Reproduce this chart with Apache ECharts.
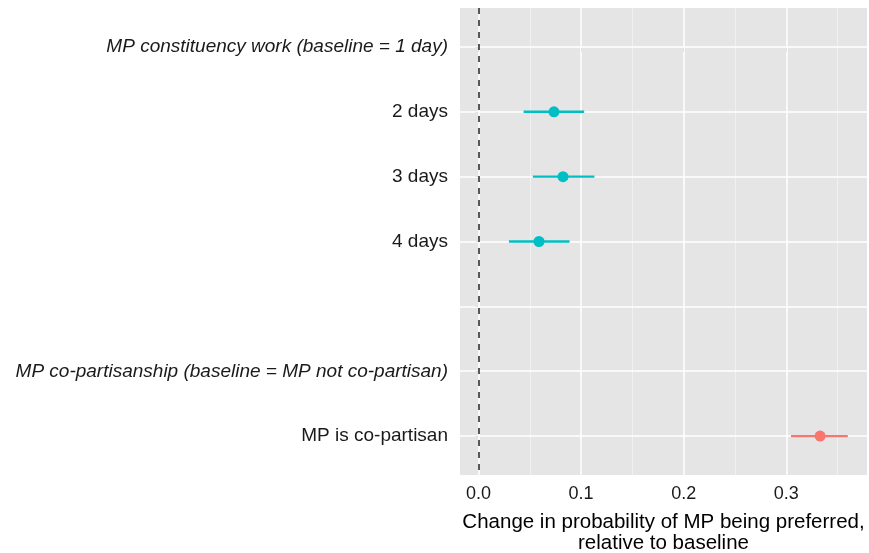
<!DOCTYPE html>
<html>
<head>
<meta charset="utf-8">
<script src="https://cdn.jsdelivr.net/npm/echarts@6/dist/echarts.min.js"></script>
<style>html,body{margin:0;padding:0;background:#fff;}#c{width:869px;height:553px;}</style>
</head>
<body>
<div id="c"></div>
<script>
// Rows on the y axis (top to bottom); blank row is a spacer
var categories = [
  'MP constituency work (baseline = 1 day)',
  '2 days',
  '3 days',
  '4 days',
  '',
  'MP co-partisanship (baseline = MP not co-partisan)',
  'MP is co-partisan'
];
var headerRows = [0, 5];
// Estimates
var estRows   = [1, 2, 3, 6];
var estimate  = [0.0736, 0.0824, 0.0590, 0.3330];
var lower     = [0.0440, 0.0530, 0.0297, 0.3046];
var upper     = [0.1030, 0.1130, 0.0888, 0.3600];
var group     = ['work', 'work', 'work', 'party'];
var xTicks    = [0, 0.1, 0.2, 0.3];
var xMinor    = [0.05, 0.15, 0.25, 0.35];
var xTitle    = 'Change in probability of MP being preferred,\nrelative to baseline';

var colors = { work: '#00BFC4', party: '#F8766D' };
var yIdx = categories.map(function (_, i) { return i; });

var ptData = estRows.map(function (r, i) {
  return { value: [estimate[i], r], itemStyle: { color: colors[group[i]], opacity: 1 } };
});

var FONT = 'Liberation Sans, Arial, sans-serif';

var series = [
  {
    type: 'scatter', data: [], silent: true, z: 1,
    markLine: {
      silent: true, symbol: 'none', label: { show: false }, animation: false, z: 1,
      data: []
        .concat(xMinor.map(function (v) { return { xAxis: v, lineStyle: { color: '#F2F2F2', width: 0.8, type: 'solid', opacity: 1 } }; }))
        .concat(xTicks.map(function (v) { return { xAxis: v, lineStyle: { color: '#FFFFFF', width: 1.5, type: 'solid', opacity: 1 } }; }))
        .concat(yIdx.map(function (v) { return { yAxis: v, lineStyle: { color: '#FFFFFF', width: 1.5, type: 'solid', opacity: 1 } }; }))
    }
  },
  {
    type: 'scatter', data: [], silent: true, z: 2,
    markLine: {
      silent: true, symbol: 'none', label: { show: false }, animation: false, z: 2,
      data: [{ xAxis: 0, lineStyle: { color: '#222222', width: 1.5, type: [6, 6], opacity: 1 } }]
    }
  }
];
// Confidence intervals: one short line series per estimate
estRows.forEach(function (r, i) {
  series.push({
    type: 'line', z: 3, silent: true, showSymbol: false, symbol: 'none',
    lineStyle: { color: colors[group[i]], width: 2.4, opacity: 1 },
    itemStyle: { color: colors[group[i]] },
    data: [[lower[i], r], [upper[i], r]]
  });
});
series.push({
  type: 'scatter', z: 4, symbol: 'circle', symbolSize: 11,
  itemStyle: { opacity: 1 },
  data: ptData
});

var chart = echarts.init(document.getElementById('c'));
chart.setOption({
  animation: false,
  grid: { left: 460, right: 2, top: 8, bottom: 78, outerBoundsMode: 'none', containLabel: false,
          show: true, backgroundColor: '#E5E5E5', borderWidth: 0 },
  xAxis: {
    type: 'value', min: -0.018, max: 0.3787,
    axisLine: { show: false },
    splitLine: { show: false },
    axisTick: { show: true, customValues: xTicks, length: 5, lineStyle: { color: '#8c8c8c', width: 1 } },
    axisLabel: {
      customValues: xTicks, margin: 10,
      formatter: function (v) { return v.toFixed(1); },
      fontFamily: FONT, fontSize: 18, color: '#1a1a1a'
    },
    name: xTitle, nameLocation: 'middle', nameGap: 37,
    nameTextStyle: { fontFamily: FONT, fontSize: 20.5, color: '#000', lineHeight: 21, verticalAlign: 'top' }
  },
  yAxis: {
    type: 'value', inverse: true, min: -0.6, max: 6.6,
    axisLine: { show: false },
    splitLine: { show: false },
    axisTick: { show: true, customValues: yIdx, length: 3, lineStyle: { color: '#8c8c8c', width: 1 } },
    axisLabel: {
      customValues: yIdx, margin: 12,
      formatter: function (v) {
        var i = Math.round(v);
        var t = categories[i] || '';
        if (!t) return '';
        return headerRows.indexOf(i) >= 0 ? '{it|' + t + '}' : '{n|' + t + '}';
      },
      rich: {
        it: { fontFamily: FONT, fontSize: 19, fontStyle: 'italic', color: '#1a1a1a' },
        n:  { fontFamily: FONT, fontSize: 19, color: '#1a1a1a' }
      }
    }
  },
  series: series
});
</script>
</body>
</html>
